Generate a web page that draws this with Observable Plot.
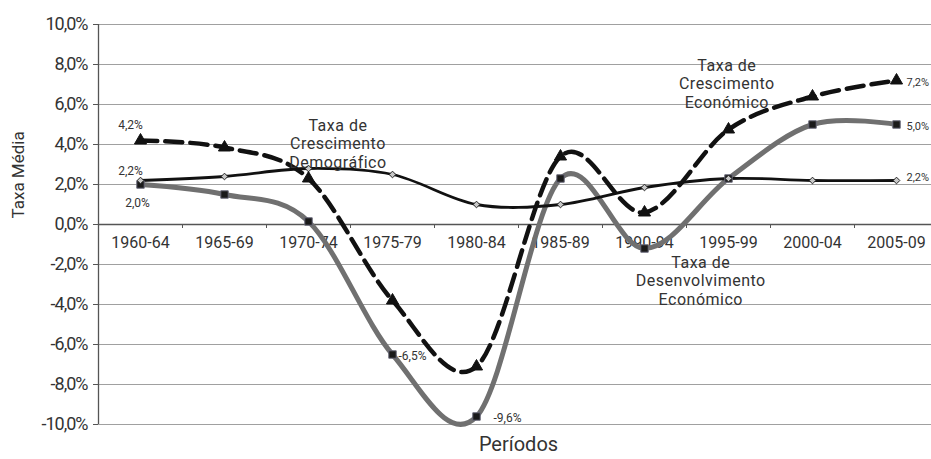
<!DOCTYPE html>
<html>
<head>
<meta charset="utf-8">
<script src="https://cdn.jsdelivr.net/npm/d3@7"></script>
<script src="https://cdn.jsdelivr.net/npm/@observablehq/plot@0.6"></script>
<style>
  html, body { margin: 0; padding: 0; background: #fff; }
  svg text { font-family: Roboto, "Noto Sans", sans-serif; }
  .ylab text { letter-spacing: -1px; }
  .ann text { letter-spacing: 0.5px; }
</style>
</head>
<body>
<div id="chart"></div>
<script>
const periods = ["1960-64","1965-69","1970-74","1975-79","1980-84","1985-89","1990-94","1995-99","2000-04","2005-09"];
const crescimentoDemografico = [2.2, 2.4, 2.8, 2.5, 1.0, 1.0, 1.85, 2.3, 2.2, 2.2];
const crescimentoEconomico = [4.2, 3.85, 2.3, -3.8, -7.1, 3.4, 0.6, 4.75, 6.4, 7.2];
const desenvolvimentoEconomico = [2.0, 1.5, 0.15, -6.5, -9.6, 2.3, -1.2, 2.3, 5.0, 5.0];
const yTicks = [-10, -8, -6, -4, -2, 0, 2, 4, 6, 8, 10];

const fmt = v => v.toFixed(1).replace(".", ",") + "%";
const rows = (vals) => vals.map((v, i) => ({i, period: periods[i], v}));
const dem = rows(crescimentoDemografico);
const eco = rows(crescimentoEconomico);
const dev = rows(desenvolvimentoEconomico);
const last = periods.length - 1;

const chart = Plot.plot({
  width: 931,
  height: 459,
  marginLeft: 98,
  marginRight: -7,
  marginTop: 24,
  marginBottom: 35,
  style: {fontFamily: "Roboto, sans-serif", color: "#333", background: "#fff"},
  x: {domain: [-0.5, periods.length - 0.5], axis: null},
  y: {domain: [-10, 10], axis: null},
  marks: [
    Plot.ruleY(yTicks.filter(d => d !== 0), {stroke: "#a0a0a0", strokeWidth: 1}),
    Plot.ruleY([0], {stroke: "#555", strokeWidth: 1.3}),
    Plot.ruleX([-0.5], {stroke: "#555", strokeWidth: 1.3}),
    Plot.axisY(yTicks, {anchor: "left", tickSize: 5, tickPadding: 6, fontSize: 18, stroke: "#555",
      tickFormat: fmt, label: null, className: "ylab", fill: "#333"}),
    Plot.ruleX(d3.range(periods.length + 1).map(i => i - 0.5), {y1: 0, y2: -0.2, stroke: "#555"}),
    Plot.text(periods, {x: (d, i) => i, y: 0, dy: 18, fontSize: 16, fill: "#333"}),
    // Lines
    Plot.line(dev, {x: "i", y: "v", curve: "cardinal", tension: 0, stroke: "#707070", strokeWidth: 5}),
    Plot.line(dem, {x: "i", y: "v", curve: "cardinal", tension: 0, stroke: "#111", strokeWidth: 2.8}),
    Plot.line(eco, {x: "i", y: "v", curve: "cardinal", tension: 0, stroke: "#111", strokeWidth: 4.5,
      strokeDasharray: "17,8"}),
    // Markers
    Plot.dot(dev, {x: "i", y: "v", symbol: "square", r: 4.2, fill: "#1a1a1a", stroke: "#6a6a7a", strokeWidth: 1}),
    Plot.dot(dem, {x: "i", y: "v", symbol: "diamond2", r: 3, fill: "#c8c8c8", stroke: "#222", strokeWidth: 1}),
    Plot.dot(eco, {x: "i", y: "v", symbol: "triangle", r: 4.5, fill: "#111", stroke: "#111", strokeWidth: 1}),
    // Value labels
    Plot.text([eco[0]], {x: "i", y: "v", text: d => fmt(d.v), dx: -10, dy: -15, fontSize: 12, fill: "#333"}),
    Plot.text([dem[0]], {x: "i", y: "v", text: d => fmt(d.v), dx: -10, dy: -9, fontSize: 12, fill: "#333"}),
    Plot.text([dev[0]], {x: "i", y: "v", text: d => fmt(d.v), dx: -3, dy: 19, fontSize: 12, fill: "#333"}),
    Plot.text([dev[3]], {x: "i", y: "v", text: d => fmt(d.v), textAnchor: "start", dx: 6, dy: 2, fontSize: 12, fill: "#333"}),
    Plot.text([dev[4]], {x: "i", y: "v", text: d => fmt(d.v), textAnchor: "start", dx: 17, dy: 2, fontSize: 12, fill: "#333"}),
    Plot.text([eco[last], dev[last]], {x: "i", y: "v", text: d => fmt(d.v), textAnchor: "start", dx: 10, dy: 2, fontSize: 11, fill: "#333"}),
    Plot.text([dem[last]], {x: "i", y: "v", text: d => fmt(d.v), textAnchor: "start", dx: 10, dy: -3, fontSize: 11, fill: "#333"}),
    // Series annotations
    Plot.text(["Taxa de\nCrescimento\nDemográfico"], {x: 2.35, y: 4.05, fontSize: 16, lineHeight: 1.15,
      fill: "#333", className: "ann"}),
    Plot.text(["Taxa de\nCrescimento\nEconómico"], {x: 6.98, y: 7.05, fontSize: 16, lineHeight: 1.15,
      fill: "#333", className: "ann"}),
    Plot.text(["Taxa de\nDesenvolvimento\nEconómico"], {x: 6.67, y: -2.8, fontSize: 16, lineHeight: 1.15,
      fill: "#333", className: "ann"}),
    // Axis titles
    Plot.text(["Períodos"], {x: 4.5, frameAnchor: "bottom", dy: 26, fontSize: 20, fill: "#333"}),
    Plot.text(["Taxa Média"], {y: 0.3, frameAnchor: "left", dx: -80, rotate: -90, fontSize: 17, fill: "#333"})
  ]
});
document.getElementById("chart").appendChild(chart);
</script>
</body>
</html>
